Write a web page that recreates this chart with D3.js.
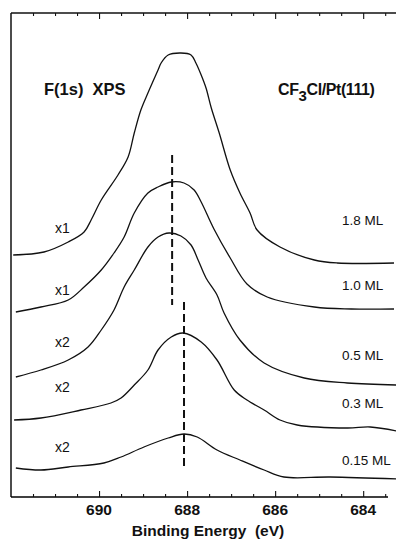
<!DOCTYPE html>
<html>
<head>
<meta charset="utf-8">
<script src="https://cdn.jsdelivr.net/npm/d3@7/dist/d3.min.js"></script>
<style>
  html, body { margin: 0; padding: 0; background: #fff; }
  svg { display: block; font-family: "Liberation Sans", Arial, Helvetica, sans-serif; }
</style>
</head>
<body>
<svg id="chart" width="396" height="543"></svg>
<script>
// F(1s) XPS spectra of CF3Cl on Pt(111) at several coverages.
// Each spectrum: [binding energy (eV), intensity (arb. units, before scaling)].
const coverages = ["1.8 ML", "1.0 ML", "0.5 ML", "0.3 ML", "0.15 ML"];
const scaleFactors = [1, 1, 2, 2, 2];
const offsets = [24.2, 18.5, 12.0, 7.7, 2.9];

const spectrum18 = [
  [691.95, 0], [691.25, 0.3], [690.70, 1.3], [690.34, 2.3], [690.18, 3.5],
  [689.95, 5.5], [689.57, 8.0], [689.34, 9.8], [689.20, 12.2], [689.05, 14.5],
  [688.89, 16.2], [688.66, 18.5], [688.59, 19.2], [688.43, 20.0], [688.14, 20.2],
  [687.91, 20.0], [687.80, 19.2], [687.68, 18.0], [687.57, 16.7], [687.45, 14.7],
  [687.27, 12.2], [687.02, 8.5], [686.80, 6.2], [686.57, 4.2], [686.41, 2.5],
  [685.89, 0.8], [685.11, -0.5], [684.59, -0.8], [683.30, -0.8]
];
const spectrum10 = [
  [691.89, 0], [691.32, 0.5], [690.70, 1.2], [690.34, 2.5], [689.95, 4.2],
  [689.66, 5.9], [689.43, 7.5], [689.20, 9.9], [688.89, 11.9], [688.66, 12.5],
  [688.36, 13.0], [688.07, 12.9], [687.84, 12.2], [687.68, 11.0], [687.39, 8.3],
  [687.02, 5.4], [686.64, 2.8], [686.18, 1.5], [685.11, 0.5], [684.27, 0.3],
  [683.30, 0.3]
];
const spectrum05 = [
  [691.89, 0], [691.32, 0.35], [690.70, 0.85], [690.25, 1.5], [689.95, 2.35],
  [689.66, 3.35], [689.43, 4.5], [689.20, 5.35], [688.89, 6.5], [688.66, 7.0],
  [688.41, 7.2], [688.14, 7.05], [687.91, 6.6], [687.75, 5.85], [687.57, 4.95],
  [687.32, 4.1], [687.16, 3.2], [686.80, 1.85], [686.25, 0.7], [685.34, -0.05],
  [684.36, -0.3], [683.23, -0.4]
];
const spectrum03 = [
  [691.93, 0], [691.32, 0.1], [690.41, 0.5], [689.73, 0.85], [689.50, 1.1],
  [689.20, 1.75], [688.89, 2.5], [688.66, 3.5], [688.36, 4.15], [688.09, 4.35],
  [687.68, 3.9], [687.32, 3.0], [686.93, 1.5], [686.64, 1.0], [686.25, 0.5],
  [685.89, 0.0], [685.50, -0.25], [684.36, -0.4], [683.84, -0.35], [683.23, -0.55]
];
const spectrum015 = [
  [691.89, 0], [691.32, -0.1], [690.70, 0.05], [689.89, 0.25], [689.50, 0.55],
  [688.98, 1.05], [688.43, 1.5], [688.07, 1.7], [687.77, 1.55], [687.32, 0.9],
  [686.80, 0.4], [686.25, -0.1], [685.80, -0.45], [684.75, -0.45], [683.23, -0.55]
];
const spectra = [spectrum18, spectrum10, spectrum05, spectrum03, spectrum015];

// Peak-position markers: binding energy and the intensity span they cover.
const peakMarkerEnergies = [688.34, 688.07];
const peakMarkerSpans = [[19.2, 34.2], [2.7, 19.5]];

const majorTicks = [690, 688, 686, 684];
const majorTickLabels = ["690", "688", "686", "684"];
const minorTicks = [691.5, 691, 690.5, 689.5, 689, 688.5, 687.5, 687, 686.5, 685.5, 685, 684.5, 683.5];

(function draw() {
  const svg = d3.select("#chart");
  const plotLeft = 11, plotRight = 394, plotTop = 13, plotBottom = 497;

  const x = d3.scaleLinear().domain([692, 683.3]).range([plotLeft, plotRight]);
  const y = d3.scaleLinear().domain([0, 48.4]).range([plotBottom, plotTop]);

  // Frame: left and top rules
  svg.append("line").attr("x1", plotLeft).attr("x2", plotLeft).attr("y1", plotTop).attr("y2", plotBottom)
    .attr("stroke", "#111").attr("stroke-width", 1.5);
  svg.append("line").attr("x1", plotLeft).attr("x2", 396).attr("y1", plotTop).attr("y2", plotTop)
    .attr("stroke", "#111").attr("stroke-width", 1.3);

  // Bottom axis (ticks pointing inward)
  const bottomAxis = svg.append("g").attr("transform", `translate(0,${plotBottom})`)
    .call(d3.axisBottom(x).tickValues(majorTicks).tickSize(-6).tickFormat(""));
  bottomAxis.select(".domain").attr("d", `M${plotLeft},0H388`).attr("stroke-width", 1.4);
  svg.append("g").attr("transform", `translate(0,${plotBottom})`)
    .call(d3.axisBottom(x).tickValues(minorTicks).tickSize(-3).tickFormat(""))
    .select(".domain").remove();

  // Top axis (ticks pointing inward)
  svg.append("g").attr("transform", `translate(0,${plotTop})`)
    .call(d3.axisTop(x).tickValues(majorTicks).tickSize(-6).tickFormat(""))
    .select(".domain").remove();
  svg.append("g").attr("transform", `translate(0,${plotTop})`)
    .call(d3.axisTop(x).tickValues(minorTicks).tickSize(-3).tickFormat(""))
    .select(".domain").remove();
  svg.selectAll(".tick line").attr("stroke", "#111").attr("stroke-width", 1.1);

  // Tick labels
  svg.append("g").selectAll("text").data(majorTicks).join("text")
    .attr("x", d => x(d)).attr("y", 515)
    .attr("text-anchor", "middle")
    .attr("font-size", 15.5).attr("font-weight", "bold").attr("fill", "#111")
    .text((d, i) => majorTickLabels[i]);

  svg.append("text").attr("x", 208).attr("y", 536)
    .attr("text-anchor", "middle").attr("font-size", 15.5).attr("font-weight", "bold")
    .attr("fill", "#111").attr("xml:space", "preserve")
    .text("Binding Energy  (eV)");

  // Spectra
  spectra.forEach((s, i) => {
    const line = d3.line()
      .x(d => x(d[0]))
      .y(d => y(offsets[i] + scaleFactors[i] * d[1]))
      .curve(d3.curveCatmullRom.alpha(0.5));
    svg.append("path")
      .datum(s)
      .attr("fill", "none")
      .attr("stroke", "#111")
      .attr("stroke-width", 1.3)
      .attr("d", line);
  });

  // Peak-position markers
  peakMarkerEnergies.forEach((e, i) => {
    svg.append("line")
      .attr("x1", x(e)).attr("x2", x(e))
      .attr("y1", y(peakMarkerSpans[i][1])).attr("y2", y(peakMarkerSpans[i][0]))
      .attr("stroke", "#111").attr("stroke-width", 2)
      .attr("stroke-dasharray", "8,4");
  });

  // Scale-factor and coverage labels
  const scaleLabelLevels = [26.4, 20.2, 15.0, 10.5, 4.5];
  const coverageLabelLevels = [27.2, 20.7, 13.7, 8.9, 3.2];
  svg.append("g").selectAll("text").data(scaleFactors).join("text")
    .attr("x", 55).attr("y", (d, i) => y(scaleLabelLevels[i]))
    .attr("font-size", 14).attr("fill", "#111")
    .text(d => "x" + d);
  svg.append("g").selectAll("text").data(coverages).join("text")
    .attr("x", 342).attr("y", (d, i) => y(coverageLabelLevels[i]))
    .attr("font-size", 13.5).attr("fill", "#111")
    .text(d => d);

  // Titles
  svg.append("text").attr("x", 44).attr("y", 95)
    .attr("font-size", 16.5).attr("font-weight", "bold").attr("fill", "#111")
    .attr("xml:space", "preserve")
    .text("F(1s)  XPS");

  const t2 = svg.append("text").attr("x", 278).attr("y", 95)
    .attr("font-size", 16).attr("font-weight", "bold").attr("fill", "#111")
    .attr("letter-spacing", -0.4);
  t2.append("tspan").text("CF");
  t2.append("tspan").attr("dy", 6).attr("font-size", 15).text("3");
  t2.append("tspan").attr("dy", -6).text("Cl/Pt(111)");
})();
</script>
</body>
</html>
